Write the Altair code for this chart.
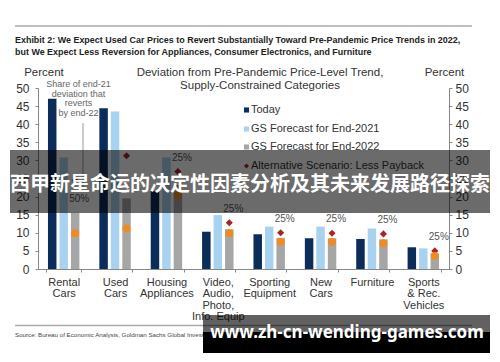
import altair as alt
import pandas as pd

# ---------------- data ----------------
categories = ["Rental|Cars", "Used|Cars", "Housing|Appliances",
              "Video,|Audio,|Photo,|Info. Equip", "Sporting|Equipment",
              "New|Cars", "Furniture", "Sports|& Rec.|Vehicles"]
series_names = ["Today", "GS Forecast for End-2021", "GS Forecast for End-2022"]
today = [47.0, 44.4, 21.5, 10.3, 9.6, 8.5, 8.3, 6.0]
gs_2021 = [30.8, 43.5, 30.8, 14.9, 11.7, 11.7, 11.2, 5.7]
gs_2022 = [15.5, 19.5, 23.2, 11.0, 8.6, 8.5, 8.2, 4.3]
alt_scenario = [24.5, 31.3, 26.9, 12.8, 10.0, 9.9, 9.7, 5.0]
orange_points = [9.9, 11.2, 20.4, 9.9, 7.5, 7.5, 7.1, 3.6]
share_labels = ["50%", "", "25%", "25%", "25%", "25%", "25%", "25%"]
y_ticks = [0, 5, 10, 15, 20, 25, 30, 35, 40, 45, 50]
legend_labels = ["Today", "GS Forecast for End-2021", "GS Forecast for End-2022",
                 "Alternative Scenario: Less Payback"]

colors = ["#0c2d5a", "#a9d2f1", "#a6a6a6"]
ORANGE = "#f28a1e"
RED = "#a3262a"
FONT = "Liberation Sans"

rows = []
for i, c in enumerate(categories):
    for s, vals in zip(series_names, [today, gs_2021, gs_2022]):
        rows.append({"cat": c, "series": s, "value": vals[i]})
bars_df = pd.DataFrame(rows)

pts_df = pd.DataFrame({
    "cat": categories,
    "series": series_names[2],
    "orange": orange_points,
    "alt": alt_scenario,
    "share": share_labels,
    "label_at": [g if (a - g) > 5 else max(a, g) for a, g in zip(alt_scenario, gs_2022)],
})

W, H = 411, 181

x_enc = alt.X("cat:N", sort=categories,
              scale=alt.Scale(domain=categories, paddingInner=0.33, paddingOuter=0.165),
              axis=alt.Axis(title=None, labelExpr="split(datum.label, '|')", labelAngle=0,
                            tickBand="extent", tickSize=3, tickColor="#888", domainColor="#888",
                            labelFont=FONT, labelFontSize=11, labelColor="#333",
                            labelLineHeight=11.5, labelPadding=4, labelBaseline="top"))
xo_enc = alt.XOffset("series:N", sort=series_names,
                     scale=alt.Scale(domain=series_names, paddingInner=0.26, paddingOuter=0.13))


def yscale():
    return alt.Scale(domain=[0, 50], nice=False, zero=True)


bars = alt.Chart(bars_df).mark_bar().encode(
    x=x_enc, xOffset=xo_enc,
    y=alt.Y("value:Q", scale=yscale(),
            axis=alt.Axis(orient="left", title=None, values=y_ticks, tickSize=3, grid=False,
                          tickColor="#888", domainColor="#888", labelFont=FONT,
                          labelFontSize=12, labelColor="#333", labelPadding=6)),
    color=alt.Color("series:N", sort=series_names,
                    scale=alt.Scale(domain=series_names, range=colors), legend=None),
)

diamonds = alt.Chart(pts_df).mark_point(shape="diamond", filled=True, size=50, color=RED, opacity=1).encode(
    x=x_enc, xOffset=xo_enc,
    y=alt.Y("alt:Q", scale=yscale(), axis=None),
)

oranges = alt.Chart(pts_df).mark_circle(size=62, color=ORANGE, opacity=1).encode(
    x=x_enc, xOffset=xo_enc,
    y=alt.Y("orange:Q", scale=yscale(),
            axis=alt.Axis(orient="right", title=None, values=y_ticks, tickSize=3, grid=False,
                          tickColor="#888", domainColor="#888", labelFont=FONT,
                          labelFontSize=12, labelColor="#333", labelPadding=3)),
)

shares = alt.Chart(pts_df).mark_text(font=FONT, fontSize=10, color="#555", dx=4, dy=-14,
                                     baseline="middle").encode(
    x=x_enc, xOffset=xo_enc,
    y=alt.Y("label_at:Q", scale=yscale(), axis=None),
    text="share:N",
)


def txt(s, x, y, size=11, color="#333", align="left", font=FONT, weight="normal"):
    return alt.Chart(pd.DataFrame({"t": [s]})).mark_text(
        font=font, fontSize=size, color=color, align=align, baseline="middle",
        fontWeight=weight).encode(x=alt.value(x), y=alt.value(y), text="t:N")


def hrule(x1, x2, y, color="#aaa", w=1.5):
    return alt.Chart(pd.DataFrame({"a": [0]})).mark_rule(color=color, strokeWidth=w).encode(
        x=alt.value(x1), x2=alt.value(x2), y=alt.value(y))


def rect(x1, x2, y1, y2, color, op):
    return alt.Chart(pd.DataFrame({"a": [0]})).mark_rect(color=color, opacity=op).encode(
        x=alt.value(x1), x2=alt.value(x2), y=alt.value(y1), y2=alt.value(y2))


annot = [
    hrule(-23, 434, -62),
    txt("Exhibit 2: We Expect Used Car Prices to Revert Substantially Toward Pre-Pandemic Price Trends in 2022,",
        -23, -48, size=8.95, color="#222", weight="bold"),
    txt("but We Expect Less Reversion for Appliances, Consumer Electronics, and Furniture",
        -23, -36, size=8.95, color="#222", weight="bold"),
    txt("Percent", 6, -15, size=11.5, align="center"),
    txt("Percent", 406.5, -15, size=11.5, align="center"),
    txt("Deviation from Pre-Pandemic Price-Level Trend,", 222, -15, size=11.5, align="center"),
    txt("Supply-Constrained Categories", 222, -2, size=11.5, align="center"),
    txt("Share of end-21", 40.5, -4, size=9, color="#666", align="center"),
    txt("deviation that", 40.5, 6, size=9, color="#666", align="center"),
    txt("reverts", 40.5, 15, size=9, color="#666", align="center"),
    txt("by end-22", 40.5, 25, size=9, color="#666", align="center"),
    alt.Chart(pd.DataFrame({"a": [0]})).mark_rule(color="#999", strokeWidth=1).encode(
        x=alt.value(45), y=alt.value(35), y2=alt.value(100)),
]

legend_layers = []
leg_y = [22, 41, 59, 78]
for i, lab in enumerate(legend_labels):
    if i < 3:
        legend_layers.append(alt.Chart(pd.DataFrame({"a": [0]})).mark_square(
            size=26, color=colors[i], opacity=1).encode(x=alt.value(208.5), y=alt.value(leg_y[i])))
    else:
        legend_layers.append(alt.Chart(pd.DataFrame({"a": [0]})).mark_point(
            shape="diamond", filled=True, size=26, color=RED, opacity=1).encode(
            x=alt.value(208.5), y=alt.value(leg_y[i])))
    legend_layers.append(txt(lab, 213, leg_y[i], size=11))

footer = [
    hrule(-23, 434, 237.5),
    txt("Source: Bureau of Economic Analysis, Goldman Sachs Global Investment Research",
        -23, 247, size=6.2, color="#444"),
]

overlay = [
    rect(-28, 452, 62, 125, "#000000", 0.58),
    txt("西甲新星命运的决定性因素分析及其未来发展路径探索", 212, 97, size=20, color="#ffffff",
        align="center", font="Noto Sans CJK SC", weight="bold"),
    rect(165, 452, 227, 265, "#000000", 0.62),
    rect(165, 452, 244, 265, "#000000", 1.0),
    txt("www.zh-cn-wending-games.com", 309, 245, size=17, color="#ffffff",
        align="center", font="Noto Sans", weight="bold"),
]

chart = alt.layer(bars, diamonds, oranges, shares, *annot, *legend_layers, *footer, *overlay).resolve_scale(
    y="independent").resolve_axis(y="independent").properties(
    width=W, height=H,
    autosize=alt.AutoSizeParams(type="none"),
    padding={"left": 30, "top": 80, "right": 43, "bottom": 85},
    background="white",
).configure_view(stroke=None)

chart.save("out.html", embed_options={"renderer": "svg", "actions": False})
